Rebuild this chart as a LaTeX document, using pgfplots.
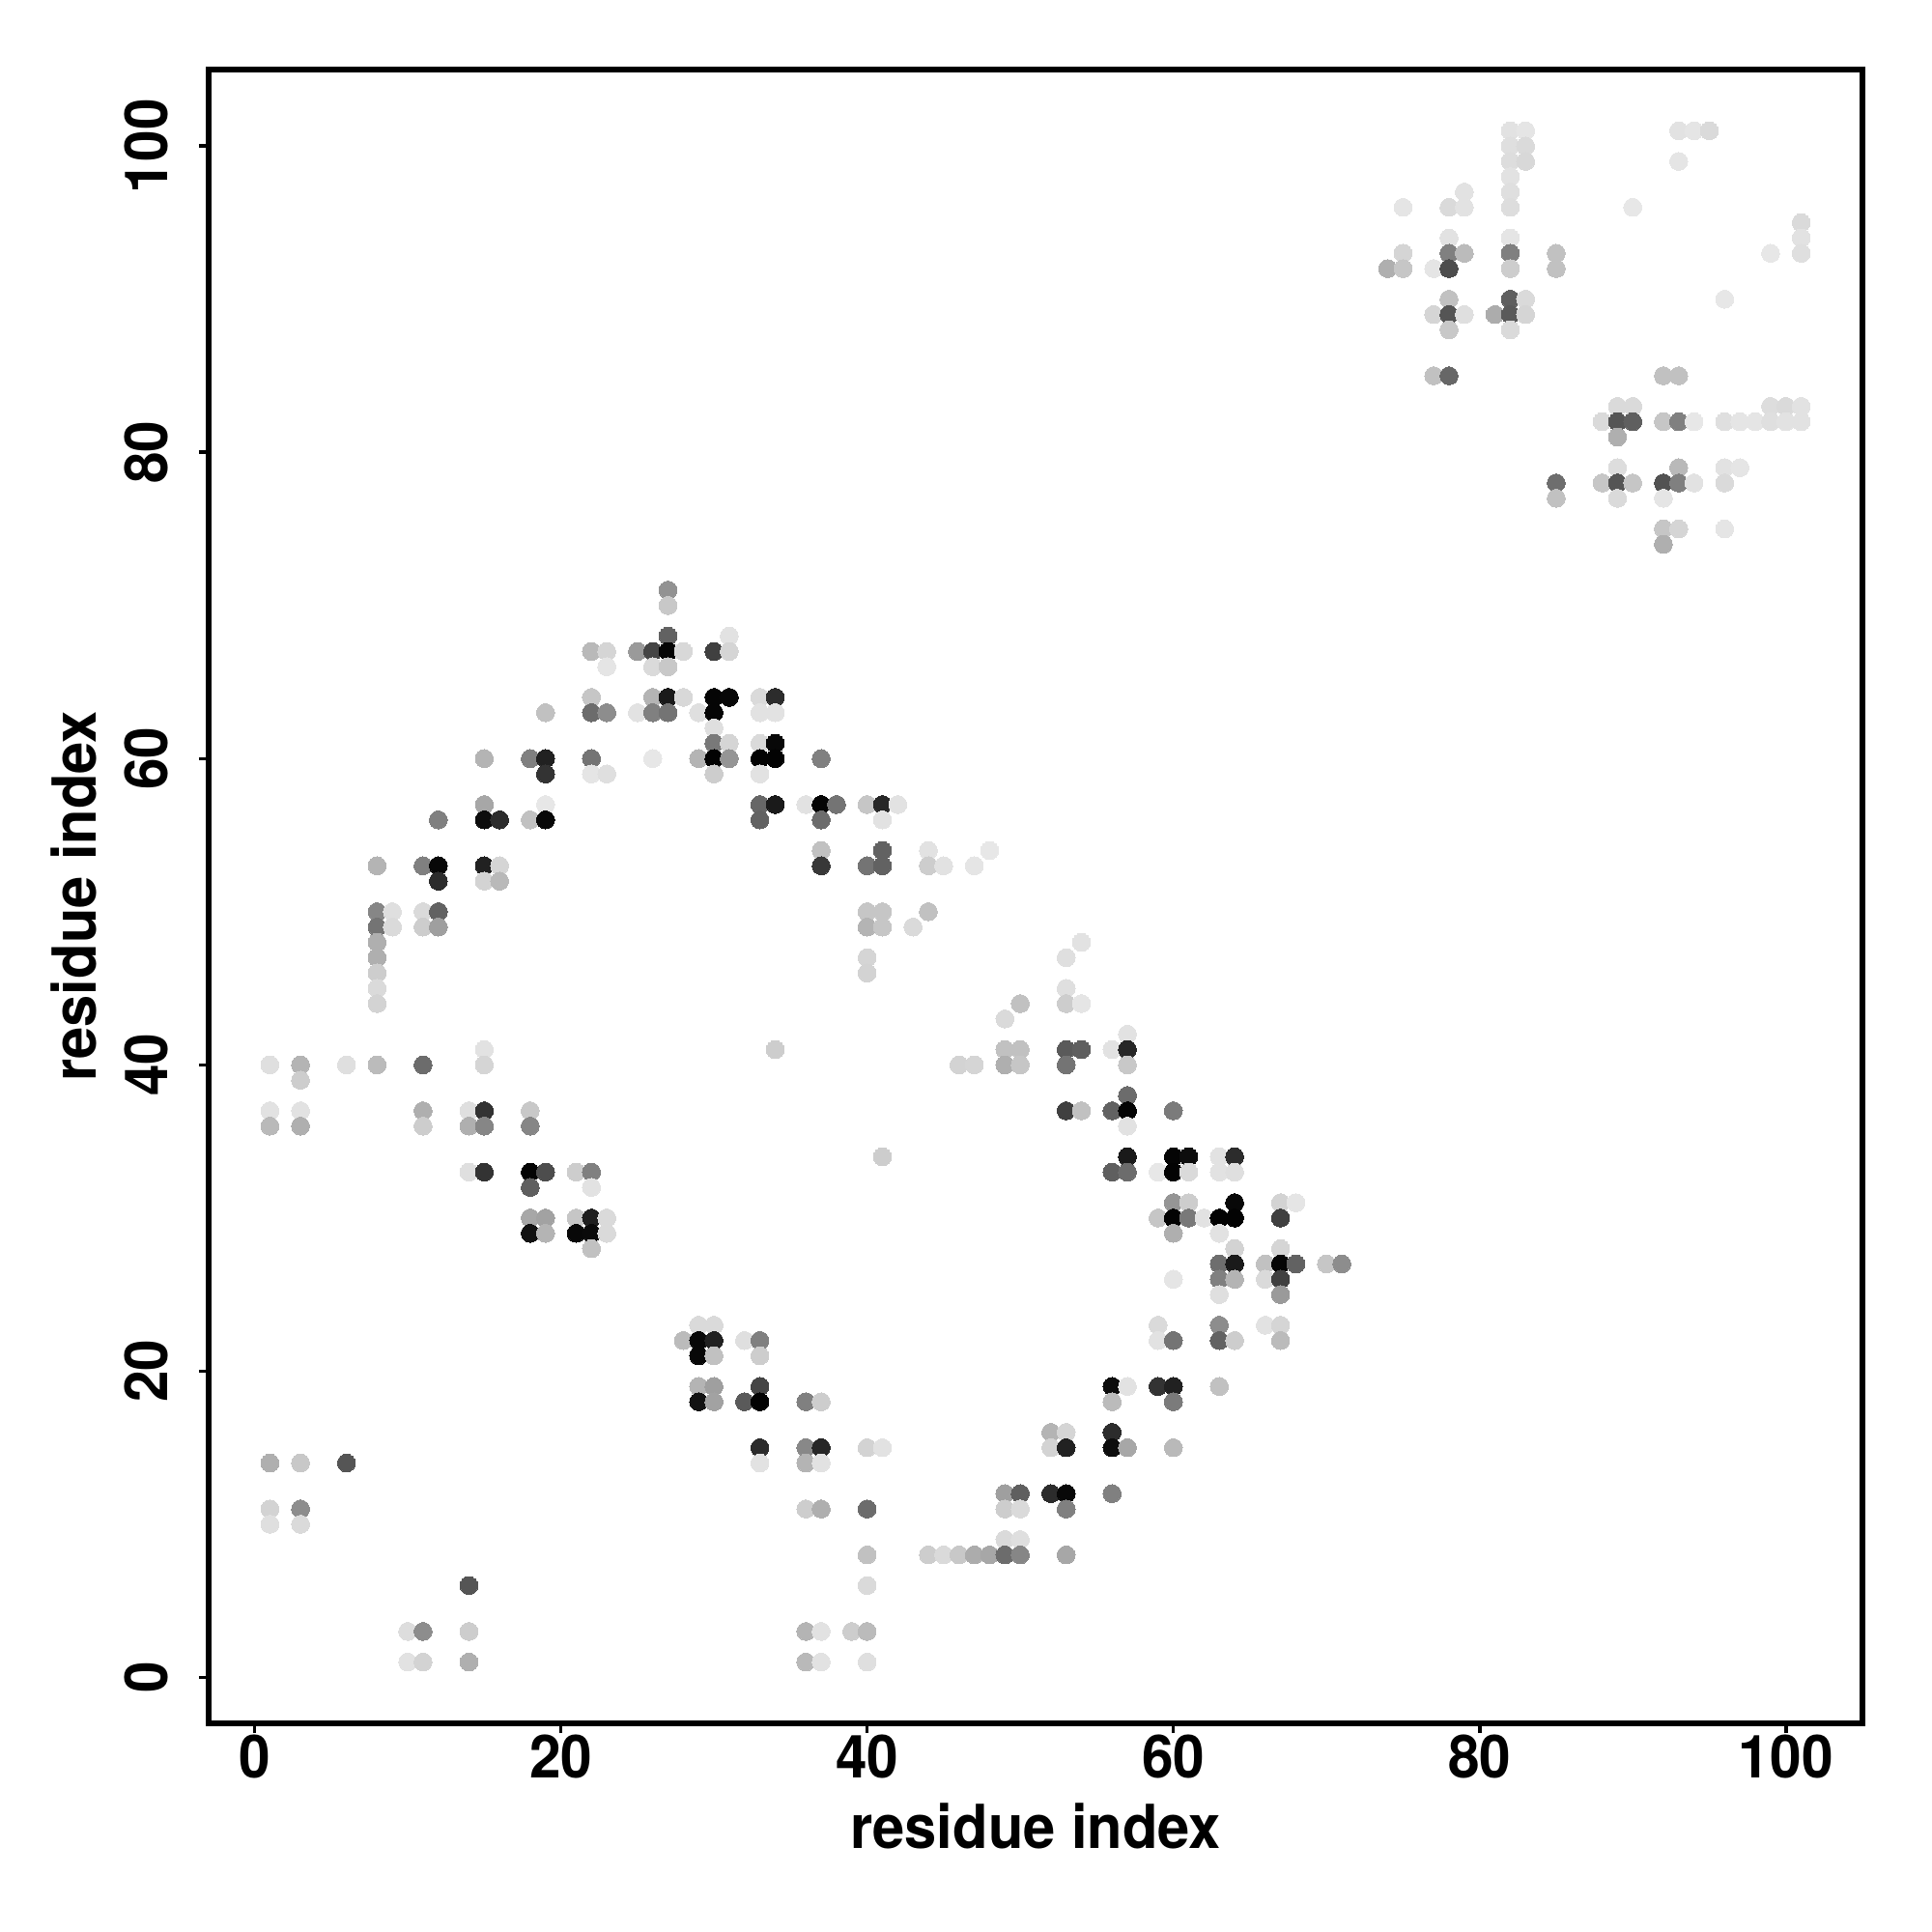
\documentclass[border=0pt]{standalone}
\usepackage{fontspec}
\setmainfont[FakeStretch=0.95]{TeX Gyre Heros}
\usepackage{pgfplots}
\pgfplotsset{compat=1.18}
\begin{document}
\begin{tikzpicture}[x=1pt,y=1pt]
\path[use as bounding box] (0,0) rectangle (500,500);
\begin{axis}[
  at={(54pt,54pt)}, anchor=south west,
  scale only axis, width=428pt, height=428pt,
  xmin=-3, xmax=105, ymin=-3, ymax=105,
  axis line style={line width=1.3pt},
  xtick={0,20,40,60,80,100}, ytick={0,20,40,60,80,100},
  tick align=outside, tick pos=left,
  major tick length=2.5pt,
  tick style={line width=0.9pt,black},
  /pgf/number format/assume math mode=true,
  /pgf/number format/1000 sep={},
  tick label style={font=\fontsize{15.4}{18}\selectfont\bfseries},
  xticklabel style={anchor=center,yshift=-6pt},
  yticklabel style={rotate=90,anchor=center,yshift=13.75pt},
  every axis x label/.style={at={(axis description cs:0.5,0)},anchor=center,yshift=-26.5pt},
  every axis y label/.style={at={(axis description cs:0,0.5)},anchor=center,rotate=90,yshift=34.8pt},
  label style={font=\fontsize{15.7}{18}\selectfont\bfseries},
  xlabel={residue index}, ylabel={residue index},
  colormap={bwgray}{gray(0cm)=(0); gray(1cm)=(1);},
  point meta min=0, point meta max=1,
]
\addplot[scatter, only marks, mark=*, mark size=2.33pt,
  scatter src=explicit,
  mark options={line width=0pt},
  scatter/use mapped color={draw=mapped color, fill=mapped color},
] table[x=x,y=y,meta=g,row sep=\\] {
x y g\\
1 40 .87\\ 1 37 .88\\ 1 36 .72\\ 1 14 .68\\ 1 11 .82\\ 1 10 .87\\
3 40 .7\\ 3 39 .8\\ 3 37 .88\\ 3 36 .68\\ 3 14 .78\\ 3 11 .55\\ 3 10 .85\\
6 40 .87\\ 6 14 .33\\
8 53 .7\\ 8 50 .52\\ 8 49 .45\\ 8 48 .68\\ 8 47 .68\\ 8 46 .8\\ 8 45 .85\\ 8 44 .82\\ 8 40 .73\\
9 50 .87\\ 9 49 .85\\
10 3 .86\\ 10 1 .88\\
11 53 .5\\ 11 50 .85\\ 11 49 .8\\ 11 40 .42\\ 11 37 .68\\ 11 36 .8\\ 11 3 .55\\ 11 1 .82\\
12 56 .5\\ 12 53 .03\\ 12 52 .17\\ 12 50 .38\\ 12 49 .62\\
14 37 .87\\ 14 36 .68\\ 14 33 .87\\ 14 6 .33\\ 14 3 .8\\ 14 1 .68\\
15 60 .7\\ 15 57 .65\\ 15 56 .05\\ 15 53 .13\\ 15 52 .82\\ 15 41 .88\\ 15 40 .83\\ 15 37 .2\\ 15 36 .52\\ 15 33 .2\\
16 56 .17\\ 16 53 .83\\ 16 52 .72\\
18 60 .5\\ 18 56 .75\\ 18 37 .78\\ 18 36 .52\\ 18 33 .01\\ 18 32 .37\\ 18 30 .65\\ 18 29 .07\\
19 63 .75\\ 19 60 .13\\ 19 59 .2\\ 19 57 .9\\ 19 56 .03\\ 19 33 .3\\ 19 30 .63\\ 19 29 .7\\
21 33 .8\\ 21 30 .77\\ 21 29 .03\\
22 67 .72\\ 22 64 .77\\ 22 63 .42\\ 22 60 .45\\ 22 59 .89\\ 22 33 .5\\ 22 32 .88\\ 22 30 .12\\ 22 29 .04\\ 22 28 .75\\
23 67 .83\\ 23 66 .89\\ 23 63 .55\\ 23 59 .87\\ 23 30 .85\\ 23 29 .85\\
25 67 .6\\ 25 63 .88\\
26 67 .27\\ 26 66 .85\\ 26 64 .7\\ 26 63 .5\\ 26 60 .9\\
27 71 .57\\ 27 70 .78\\ 27 68 .38\\ 27 67 .02\\ 27 66 .78\\ 27 64 .1\\ 27 63 .45\\
28 67 .84\\ 28 64 .84\\ 28 22 .73\\
29 63 .87\\ 29 60 .7\\ 29 23 .85\\ 29 22 .03\\ 29 21 .03\\ 29 19 .7\\ 29 18 .07\\
30 67 .25\\ 30 64 .02\\ 30 63 .02\\ 30 62 .87\\ 30 61 .47\\ 30 60 .01\\ 30 59 .8\\ 30 23 .85\\ 30 22 .13\\ 30 21 .75\\ 30 19 .62\\ 30 18 .63\\
31 68 .88\\ 31 67 .83\\ 31 64 .03\\ 31 61 .83\\ 31 60 .58\\
32 22 .87\\ 32 18 .35\\
33 64 .85\\ 33 63 .88\\ 33 61 .85\\ 33 60 .01\\ 33 59 .88\\ 33 57 .4\\ 33 56 .38\\ 33 22 .5\\ 33 21 .8\\ 33 19 .27\\ 33 18 .01\\ 33 15 .17\\ 33 14 .88\\
34 64 .17\\ 34 63 .88\\ 34 61 .03\\ 34 60 .01\\ 34 57 .1\\ 34 41 .8\\
36 57 .88\\ 36 18 .5\\ 36 15 .53\\ 36 14 .7\\ 36 11 .8\\ 36 3 .7\\ 36 1 .72\\
37 60 .5\\ 37 57 .02\\ 37 56 .42\\ 37 54 .75\\ 37 53 .22\\ 37 18 .8\\ 37 15 .15\\ 37 14 .88\\ 37 11 .68\\ 37 3 .88\\ 37 1 .88\\
38 57 .45\\
39 3 .8\\
40 57 .77\\ 40 53 .45\\ 40 50 .77\\ 40 49 .7\\ 40 47 .83\\ 40 46 .82\\ 40 15 .82\\ 40 11 .42\\ 40 8 .75\\ 40 6 .85\\ 40 3 .73\\ 40 1 .87\\
41 57 .15\\ 41 56 .88\\ 41 54 .38\\ 41 53 .38\\ 41 50 .77\\ 41 49 .77\\ 41 34 .8\\ 41 15 .88\\
42 57 .88\\
43 49 .85\\
44 54 .88\\ 44 53 .8\\ 44 50 .75\\ 44 8 .8\\
45 53 .88\\ 45 8 .85\\
46 40 .82\\ 46 8 .78\\
47 53 .89\\ 47 40 .83\\ 47 8 .67\\
48 54 .9\\ 48 8 .65\\
49 43 .85\\ 49 41 .75\\ 49 40 .68\\ 49 12 .62\\ 49 11 .8\\ 49 9 .85\\ 49 8 .42\\
50 44 .75\\ 50 41 .75\\ 50 40 .77\\ 50 12 .37\\ 50 11 .85\\ 50 9 .87\\ 50 8 .52\\
52 16 .7\\ 52 15 .82\\ 52 12 .17\\
53 47 .87\\ 53 45 .87\\ 53 44 .8\\ 53 41 .35\\ 53 40 .45\\ 53 37 .25\\ 53 16 .83\\ 53 15 .13\\ 53 12 .03\\ 53 11 .5\\ 53 8 .65\\
54 48 .88\\ 54 44 .89\\ 54 41 .37\\ 54 37 .75\\
56 41 .88\\ 56 37 .38\\ 56 33 .37\\ 56 19 .05\\ 56 18 .73\\ 56 16 .17\\ 56 15 .05\\ 56 12 .5\\
57 42 .88\\ 57 41 .15\\ 57 40 .78\\ 57 38 .42\\ 57 37 .02\\ 57 36 .88\\ 57 34 .1\\ 57 33 .42\\ 57 19 .88\\ 57 15 .65\\
59 33 .9\\ 59 30 .77\\ 59 23 .85\\ 59 22 .88\\ 59 19 .2\\
60 37 .48\\ 60 34 .02\\ 60 33 .01\\ 60 31 .58\\ 60 30 .01\\ 60 29 .68\\ 60 26 .89\\ 60 22 .45\\ 60 19 .13\\ 60 18 .48\\ 60 15 .72\\
61 34 .05\\ 61 33 .85\\ 61 31 .8\\ 61 30 .47\\
62 30 .88\\
63 34 .88\\ 63 33 .88\\ 63 30 .01\\ 63 29 .88\\ 63 27 .43\\ 63 26 .5\\ 63 25 .87\\ 63 23 .55\\ 63 22 .38\\ 63 19 .75\\
64 34 .17\\ 64 33 .87\\ 64 31 .03\\ 64 30 .01\\ 64 28 .82\\ 64 27 .1\\ 64 26 .7\\ 64 22 .8\\
66 27 .75\\ 66 26 .85\\ 66 23 .88\\
67 31 .82\\ 67 30 .25\\ 67 28 .83\\ 67 27 .02\\ 67 26 .25\\ 67 25 .6\\ 67 23 .83\\ 67 22 .73\\
68 31 .89\\ 68 27 .38\\
70 27 .77\\
71 27 .55\\
74 92 .68\\
75 96 .89\\ 75 93 .83\\ 75 92 .77\\
77 92 .89\\ 77 89 .83\\ 77 85 .75\\
78 96 .85\\ 78 94 .88\\ 78 93 .5\\ 78 92 .3\\ 78 90 .75\\ 78 89 .33\\ 78 88 .78\\ 78 85 .4\\
79 97 .88\\ 79 96 .88\\ 79 93 .73\\ 79 89 .87\\
81 89 .67\\
82 101 .88\\ 82 100 .87\\ 82 99 .86\\ 82 98 .88\\ 82 97 .87\\ 82 96 .86\\ 82 94 .89\\ 82 93 .5\\ 82 92 .8\\ 82 90 .37\\ 82 89 .35\\ 82 88 .85\\
83 101 .89\\ 83 100 .85\\ 83 99 .84\\ 83 90 .85\\ 83 89 .83\\
85 93 .75\\ 85 92 .75\\ 85 78 .43\\ 85 77 .75\\
88 82 .85\\ 88 78 .77\\
89 83 .85\\ 89 82 .33\\ 89 81 .68\\ 89 79 .86\\ 89 78 .33\\ 89 77 .85\\
90 96 .9\\ 90 83 .85\\ 90 82 .37\\ 90 78 .77\\
92 85 .75\\ 92 82 .77\\ 92 78 .32\\ 92 77 .89\\ 92 75 .77\\ 92 74 .68\\
93 101 .88\\ 93 99 .89\\ 93 85 .75\\ 93 82 .5\\ 93 79 .72\\ 93 78 .5\\ 93 75 .83\\
94 101 .89\\ 94 82 .9\\ 94 78 .88\\
95 101 .85\\
96 90 .9\\ 96 82 .87\\ 96 79 .88\\ 96 78 .85\\ 96 75 .89\\
97 82 .89\\ 97 79 .89\\
98 82 .89\\
99 93 .9\\ 99 83 .86\\ 99 82 .87\\
100 83 .85\\ 100 82 .88\\
101 95 .85\\ 101 94 .88\\ 101 93 .87\\ 101 83 .88\\ 101 82 .88\\
};
\end{axis}
\end{tikzpicture}
\end{document}
